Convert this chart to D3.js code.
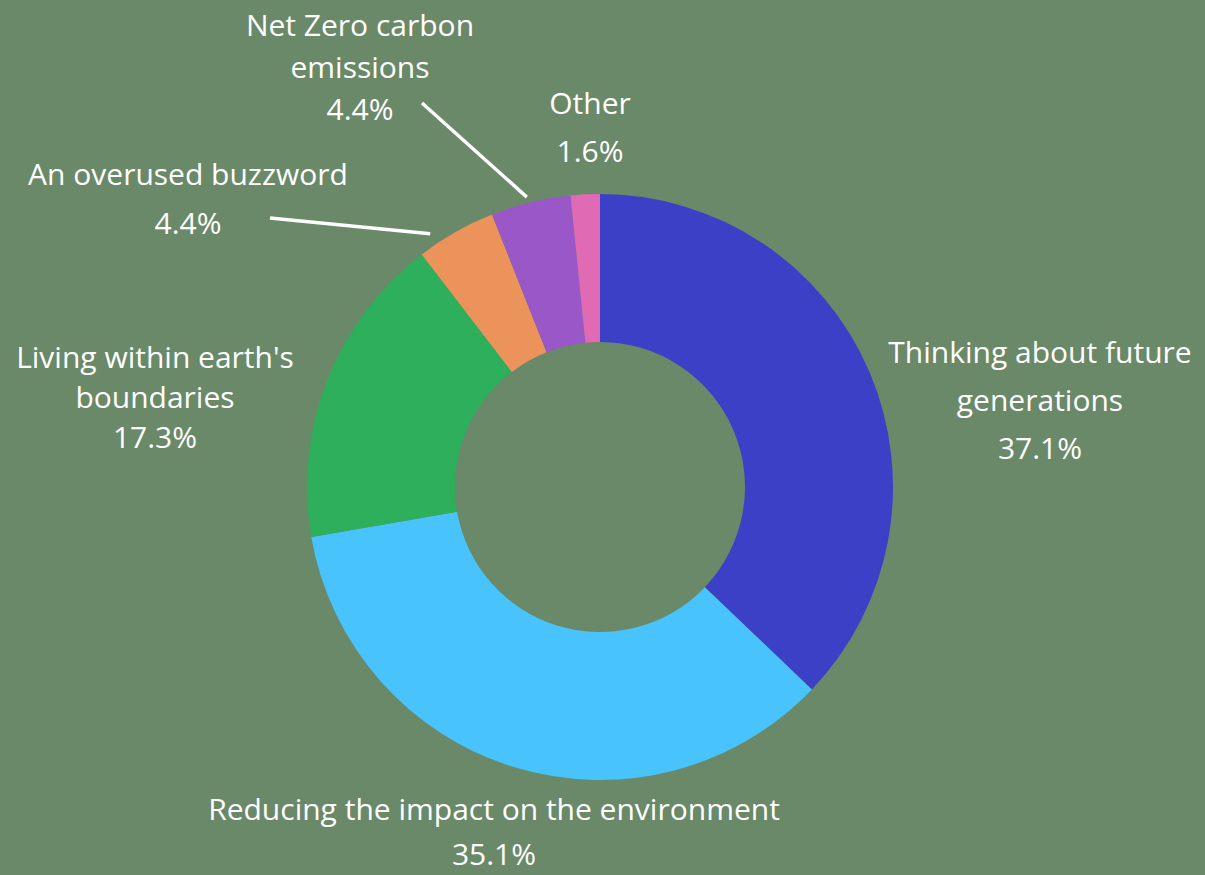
<!DOCTYPE html>
<html>
<head>
<meta charset="utf-8">
<script src="https://cdn.jsdelivr.net/npm/d3@7/dist/d3.min.js"></script>
<style>
  html, body { margin: 0; padding: 0; background: #6a8968; }
  svg { display: block; }
  text { font-family: "Open Sans", Lato, sans-serif; fill: #ffffff; }
</style>
</head>
<body>
<svg id="chart" width="1205" height="875"></svg>
<script>
// Survey answers, clockwise from 12 o'clock
const categories = [
  "Thinking about future generations",
  "Reducing the impact on the environment",
  "Living within earth's boundaries",
  "An overused buzzword",
  "Net Zero carbon emissions",
  "Other"
];
const shares = [37.1, 35.1, 17.3, 4.4, 4.4, 1.6];
const colors = ["#3c40c7", "#48c3fb", "#2daf5b", "#eb935b", "#9a57c8", "#e06ab3"];

// How each label is broken into lines
const labelLines = [
  ["Thinking about future", "generations"],
  ["Reducing the impact on the environment"],
  ["Living within earth's", "boundaries"],
  ["An overused buzzword"],
  ["Net Zero carbon", "emissions"],
  ["Other"]
];

// Label placement: centre x, first baseline y, line step; optional leader line
const labelLayout = [
  { x: 1040, y: 363, step: 48 },
  { x: 494,  y: 820, step: 45 },
  { x: 155,  y: 368, step: 40 },
  { x: 188,  y: 185, step: 49, leader: { from: [270, 218], t: 0.23, r: 305 } },
  { x: 360,  y: 36,  step: 42, leader: { from: [422, 103], t: 0.47, r: 299 } },
  { x: 590,  y: 114, step: 48 }
];

const cx = 600, cy = 487, outerR = 293, innerR = 145;

const svg = d3.select("#chart");
const g = svg.append("g").attr("transform", `translate(${cx},${cy})`);

const pie = d3.pie().value(d => d).sort(null);
const arcs = pie(shares);
const arc = d3.arc().innerRadius(innerR).outerRadius(outerR);

g.selectAll("path.slice")
  .data(arcs)
  .join("path")
  .attr("class", "slice")
  .attr("d", arc)
  .attr("fill", (d, i) => colors[i]);

// Leader lines from label to slice rim
arcs.forEach((a, i) => {
  const lay = labelLayout[i];
  if (!lay.leader) return;
  const ang = a.startAngle + (a.endAngle - a.startAngle) * lay.leader.t;
  const ex = cx + lay.leader.r * Math.sin(ang);
  const ey = cy - lay.leader.r * Math.cos(ang);
  svg.append("line")
    .attr("x1", lay.leader.from[0]).attr("y1", lay.leader.from[1])
    .attr("x2", ex).attr("y2", ey)
    .attr("stroke", "#ffffff")
    .attr("stroke-width", 3.5);
});

// Labels: category name lines followed by the percentage
const fmt = v => v.toFixed(1) + "%";
arcs.forEach((a, i) => {
  const lay = labelLayout[i];
  const lines = labelLines[i].concat([fmt(shares[i])]);
  const t = svg.append("text")
    .attr("text-anchor", "middle")
    .attr("font-size", 30);
  lines.forEach((ln, k) => {
    t.append("tspan")
      .attr("x", lay.x)
      .attr("y", lay.y + k * lay.step)
      .text(ln);
  });
});
</script>
</body>
</html>
